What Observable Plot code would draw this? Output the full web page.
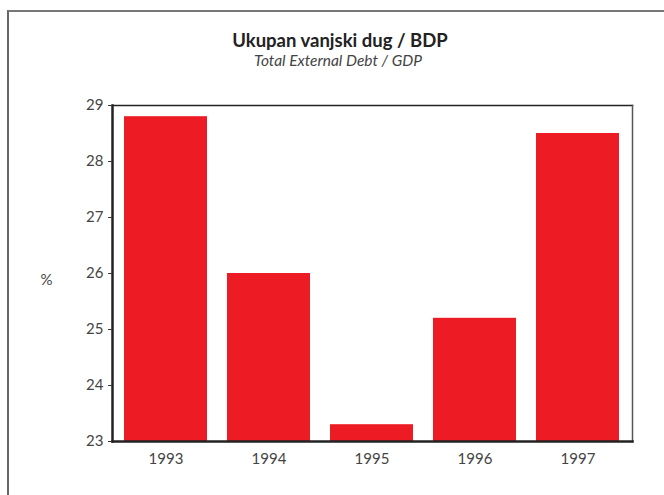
<!DOCTYPE html>
<html>
<head>
<meta charset="utf-8">
<script src="https://cdn.jsdelivr.net/npm/d3@7"></script>
<script src="https://cdn.jsdelivr.net/npm/@observablehq/plot@0.6"></script>
<style>
  html, body { margin: 0; padding: 0; background: #fff; }
  #wrap { position: relative; width: 664px; height: 495px; overflow: hidden; font-family: Lato, "Open Sans", sans-serif; }
  #border { position: absolute; left: 7px; top: 10px; right: -2px; bottom: -2px; border-left: 2px solid #666; border-top: 2px solid #777; }
  #head { position: relative; height: 80px; text-align: center; color: #222; }
  #title { position: absolute; left: 0; right: 0; top: 29px; font-size: 18.5px; font-weight: bold; padding-left: 16px; }
  #subtitle { position: absolute; left: 0; right: 0; top: 51px; font-size: 15.5px; font-style: italic; color: #444; padding-left: 12px; }
  svg { display: block; }
</style>
</head>
<body>
<div id="wrap">
  <div id="border"></div>
  <div id="head">
    <div id="title">Ukupan vanjski dug / BDP</div>
    <div id="subtitle">Total External Debt / GDP</div>
  </div>
  <div id="chart"></div>
</div>
<script>
const years = ["1993", "1994", "1995", "1996", "1997"];
const values = [28.8, 26.0, 23.3, 25.2, 28.5];
const yTicks = [23, 24, 25, 26, 27, 28, 29];
const yLabel = "%";

const data = years.map((y, i) => ({year: y, value: values[i]}));

const chart = Plot.plot({
  width: 664,
  height: 415,
  marginTop: 25,
  marginBottom: 54,
  marginLeft: 112,
  marginRight: 32,
  style: {fontFamily: "Lato, 'Open Sans', sans-serif", fontSize: "15px", color: "#444", background: "transparent"},
  x: {domain: years, paddingInner: 0.19, paddingOuter: 0.1, label: null},
  y: {domain: [23, 29], label: null},
  marks: [
    Plot.barY(data, {x: "year", y1: 23, y2: "value", fill: "#ED1C24"}),
    Plot.frame({anchor: "top", stroke: "#222", strokeWidth: 1.5}),
    Plot.frame({anchor: "right", stroke: "#555", strokeWidth: 1.5}),
    Plot.frame({anchor: "left", stroke: "#222", strokeWidth: 2.5}),
    Plot.frame({anchor: "bottom", stroke: "#222", strokeWidth: 2.5}),
    Plot.axisY({ticks: yTicks, tickSize: 4, tickPadding: 5, tickFormat: d => String(d), fontSize: 15, stroke: "#333", fill: "#444", label: null}),
    Plot.axisX({tickSize: 0, tickPadding: 12, fontSize: 15, fill: "#444", label: null}),
    Plot.text([yLabel], {frameAnchor: "left", dx: -66, dy: 7, text: d => d, fontSize: 15, fill: "#444", textAnchor: "middle"})
  ]
});
document.getElementById("chart").appendChild(chart);
</script>
</body>
</html>
